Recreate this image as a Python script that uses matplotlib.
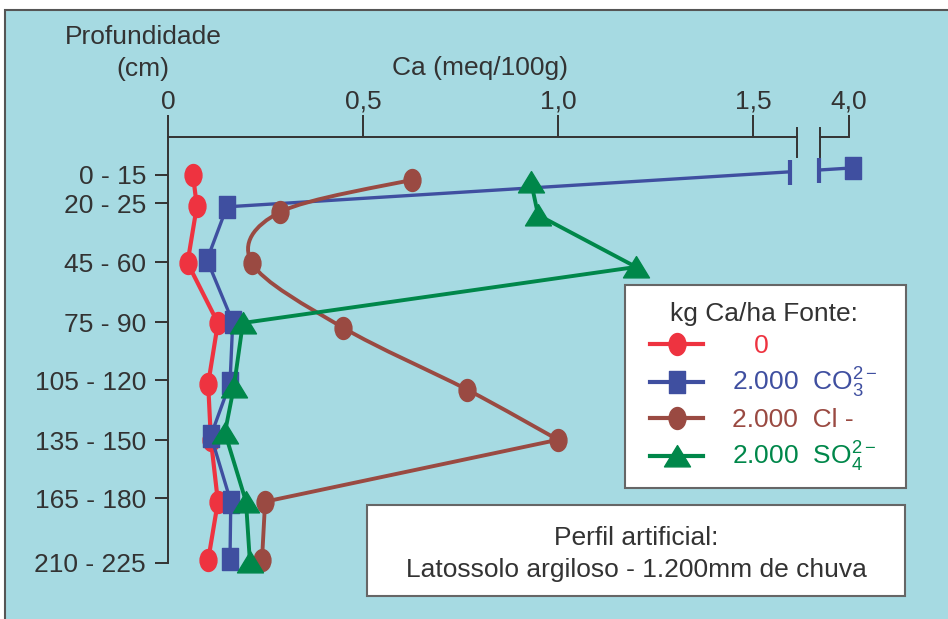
import numpy as np
import matplotlib.pyplot as plt
from matplotlib.path import Path
from matplotlib.patches import PathPatch, Rectangle
from matplotlib.transforms import Affine2D
from matplotlib.lines import Line2D

plt.rcParams['font.family'] = ['Liberation Sans', 'DejaVu Sans']
plt.rcParams['mathtext.fontset'] = 'custom'
plt.rcParams['mathtext.rm'] = 'Liberation Sans'
plt.rcParams['mathtext.it'] = 'Liberation Sans'

# depth classes (cm) and their row positions on the chart
depths = ["0 - 15", "20 - 25", "45 - 60", "75 - 90", "105 - 120",
          "135 - 150", "165 - 180", "210 - 225"]
depth_pos = [0, 0.48, 1.48, 2.5, 3.48, 4.5, 5.48, 6.58]

# Ca (meq/100g), with the row where each mark sits
ca_0 = [0.064, 0.074, 0.050, 0.128, 0.103, 0.110, 0.128, 0.103]
y_0 = [0.00, 0.53, 1.49, 2.51, 3.54, 4.49, 5.54, 6.53]
ca_co3 = [4.01, 0.151, 0.100, 0.166, 0.159, 0.110, 0.161, 0.159]
y_co3 = [-0.12, 0.54, 1.44, 2.49, 3.53, 4.42, 5.54, 6.51]
ca_cl = [0.626, 0.287, 0.215, 0.449, 0.767, 1.000, 0.249, 0.241]
y_cl = [0.08, 0.63, 1.49, 2.59, 3.64, 4.49, 5.54, 6.53]
ca_so4 = [0.931, 0.949, 1.200, 0.192, 0.169, 0.146, 0.200, 0.210]
y_so4 = [0.12, 0.68, 1.56, 2.51, 3.59, 4.37, 5.54, 6.56]

xticks = [0, 0.5, 1.0, 1.5, 4.0]
xticklabels = ["0", "0,5", "1,0", "1,5", "4,0"]

labels = ["   0", "2.000  CO$_3^{2-}$", "2.000  Cl -", "2.000  SO$_4^{2-}$"]

RED = "#ee3340"
BLUE = "#3f4fa0"
BROWN = "#9a4a42"
GREEN = "#00874a"
DARK = "#333333"
BG = "#a6dae2"
FS = 19

W, H = 948, 619
X40 = 1.746          # where 4,0 sits on the broken axis
BRK = (1.613, 1.672)  # axis break
GAP = (1.595, 1.669)  # break in the CO3 line


def xmap(v):
    v = np.asarray(v, dtype=float)
    return np.where(v > 2, v - 4.0 + X40, v)


def fx(px):
    return px / W


def fy(py):
    return 1 - py / H


def catmull_rom(xs, ys):
    pts = np.column_stack([xs, ys])
    ext = np.vstack([pts[0], pts, pts[-1]])
    verts = [pts[0]]
    codes = [Path.MOVETO]
    for i in range(1, len(ext) - 2):
        p0, p1, p2, p3 = ext[i - 1], ext[i], ext[i + 1], ext[i + 2]
        verts += [p1 + (p2 - p0) / 6, p2 - (p3 - p1) / 6, p2]
        codes += [Path.CURVE4] * 3
    return Path(verts, codes)


ellipse = Path.unit_circle().transformed(Affine2D().scale(0.77, 1.0))
rect = Path([(-0.35, -0.5), (0.35, -0.5), (0.35, 0.5), (-0.35, 0.5), (-0.35, -0.5)],
            [Path.MOVETO, Path.LINETO, Path.LINETO, Path.LINETO, Path.CLOSEPOLY])
tri = Path([(0, 0.42), (-0.5, -0.4), (0.5, -0.4), (0, 0.42)],
           [Path.MOVETO, Path.LINETO, Path.LINETO, Path.CLOSEPOLY])

fig = plt.figure(figsize=(W / 100, H / 100), dpi=100)
fig.patches.append(Rectangle((fx(5), -0.1), 1.1, fy(10) + 0.1, transform=fig.transFigure,
                             fc=BG, ec="#555555", lw=1.5, zorder=-10))

ax = fig.add_axes([fx(168), fy(563), fx(905 - 168), (563 - 137) / H])
ax.set_facecolor("none")
ax.set_xlim(0, (905 - 168) / 390)
ax.set_ylim(6.58, (137 - 175) / 59)

# series
ax.plot(ca_0, y_0, color=RED, lw=3, marker=ellipse, ms=15.8, zorder=3, clip_on=False)

xb = xmap(ca_co3)
ylo, yhi = np.interp(GAP, [xb[1], xb[0]], [y_co3[1], y_co3[0]])
ax.plot(xb[1:], y_co3[1:], color=BLUE, lw=2.4, marker=rect, ms=16.5, zorder=4, clip_on=False)
ax.plot([xb[1], GAP[0]], [y_co3[1], ylo], color=BLUE, lw=2.4, zorder=4)
ax.plot([GAP[1], xb[0]], [yhi, y_co3[0]], color=BLUE, lw=2.4, zorder=4)
ax.plot(GAP, [ylo, yhi], ls="none", color=BLUE, marker="|", ms=18, mew=3, zorder=4)
ax.plot(xb[:1], y_co3[:1], ls="none", color=BLUE, marker=rect, ms=16.5, zorder=4)

ax.add_patch(PathPatch(catmull_rom(ca_cl[:6], y_cl[:6]), fc="none", ec=BROWN, lw=2.8, zorder=5))
ax.plot(ca_cl[5:], y_cl[5:], color=BROWN, lw=2.8, zorder=5, clip_on=False)
ax.plot(ca_cl, y_cl, ls="none", color=BROWN, marker=ellipse, ms=15.8, zorder=5, clip_on=False)

ax.plot(ca_so4, y_so4, color=GREEN, lw=2.8, marker=tri, ms=18.7, zorder=6, clip_on=False)

# axes
for s in ["right", "bottom"]:
    ax.spines[s].set_visible(False)
for s in ["top", "left"]:
    ax.spines[s].set_color(DARK)
    ax.spines[s].set_linewidth(1.4)
ax.spines["top"].set_bounds(0, BRK[0])
xt = ax.get_xaxis_transform()
ax.plot([BRK[1], X40], [1, 1], transform=xt, color=DARK, lw=1.4, clip_on=False)
for b in BRK:
    ax.plot([b, b], [1.021, 0.953], transform=xt, color=DARK, lw=1.4, clip_on=False)

ax.xaxis.tick_top()
ax.set_xticks(xmap(xticks), xticklabels)
ax.set_yticks(depth_pos, depths)
ax.tick_params(axis="x", direction="out", length=15.8, width=1.4, pad=1,
               labelsize=FS, colors=DARK)
ax.tick_params(axis="y", direction="out", length=9.4, width=1.4, pad=6.5,
               labelsize=FS, colors=DARK)

fig.text(fx(143), fy(37), "Profundidade", ha="center", va="center", fontsize=FS, color=DARK)
fig.text(fx(143), fy(69), "(cm)", ha="center", va="center", fontsize=FS, color=DARK)
fig.text(fx(480), fy(68), "Ca (meq/100g)", ha="center", va="center", fontsize=FS, color=DARK)

# legend
fig.patches.append(Rectangle((fx(625), fy(488)), fx(906 - 625), (488 - 285) / H,
                             transform=fig.transFigure, fc="white", ec="#666666", lw=1.5))
handles = [
    Line2D([], [], color=RED, lw=3, marker=ellipse, ms=15.8),
    Line2D([], [], color=BLUE, lw=3, marker=rect, ms=16.5),
    Line2D([], [], color=BROWN, lw=3, marker=ellipse, ms=15.8),
    Line2D([], [], color=GREEN, lw=3, marker=tri, ms=18.7),
]
leg = fig.legend(handles, labels, loc="upper left", bbox_to_anchor=(fx(637), fy(289)),
                 frameon=False, borderpad=0, fontsize=FS, title="kg Ca/ha Fonte:",
                 title_fontsize=FS, handlelength=2.0, handletextpad=1.1,
                 labelspacing=0.3, labelcolor="linecolor")
leg.get_title().set_color(DARK)

# note box
fig.patches.append(Rectangle((fx(367), fy(596)), fx(905 - 367), (596 - 505) / H,
                             transform=fig.transFigure, fc="white", ec="#666666", lw=1.5))
fig.text(fx(636), fy(554), "Perfil artificial:\nLatossolo argiloso - 1.200mm de chuva",
         ha="center", va="center", multialignment="center", fontsize=FS,
         color=DARK, linespacing=1.4)

fig.savefig("out.png", dpi=100)
